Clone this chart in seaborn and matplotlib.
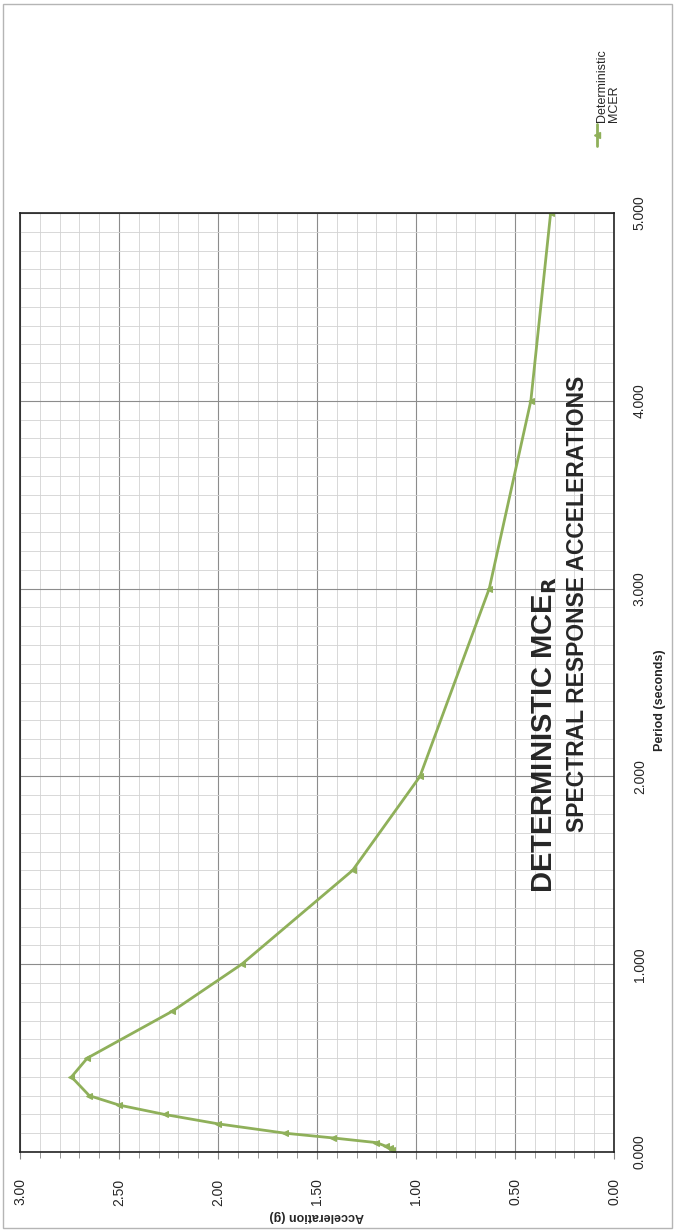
import matplotlib
matplotlib.use('Agg')
import pandas as pd
import matplotlib.pyplot as plt
import seaborn as sns
from matplotlib.lines import Line2D
from matplotlib.patches import Rectangle
from matplotlib.ticker import MultipleLocator, FormatStrFormatter

# deterministic MCE_R spectrum (period in s, acceleration in g)
period = [0.01, 0.02, 0.03, 0.05, 0.075, 0.1, 0.15, 0.2, 0.25, 0.3,
          0.4, 0.5, 0.75, 1.0, 1.5, 2.0, 3.0, 4.0, 5.0]
accel = [1.12, 1.13, 1.15, 1.20, 1.42, 1.66, 2.00, 2.27, 2.50, 2.65,
         2.74, 2.66, 2.23, 1.88, 1.32, 0.98, 0.63, 0.42, 0.32]
accel_ticks = [3.0, 2.5, 2.0, 1.5, 1.0, 0.5, 0.0]
period_ticks = [0, 1, 2, 3, 4, 5]

green = '#8FB05A'
W, H = 676, 1232

sns.set_style('white')
plt.rcParams['font.family'] = ['Liberation Sans', 'DejaVu Sans']

df = pd.DataFrame({'period': period, 'accel': accel})

fig = plt.figure(figsize=(W / 100, H / 100), dpi=100)
# chart is printed turned a quarter turn, so acceleration runs along the bottom
ax = fig.add_axes([20 / W, (H - 1152) / H, 594 / W, 939 / H])

sns.lineplot(data=df, x='accel', y='period', sort=False, estimator=None,
             color=green, lw=2, marker='<', markersize=5,
             markeredgecolor=green, ax=ax)

ax.set_xlim(3, 0)
ax.set_ylim(0, 5)
ax.set_xticks(accel_ticks)
ax.set_yticks(period_ticks)
ax.xaxis.set_minor_locator(MultipleLocator(0.1))
ax.yaxis.set_minor_locator(MultipleLocator(0.1))
ax.xaxis.set_major_formatter(FormatStrFormatter('%.2f'))
ax.yaxis.set_major_formatter(FormatStrFormatter('%.3f'))
ax.grid(which='major', color='#8c8c8c', lw=0.8)
ax.grid(which='minor', color='#d2d2d2', lw=0.6)
ax.set_axisbelow(True)
for s in ax.spines.values():
    s.set_color('#222222')
    s.set_linewidth(1.2)

ax.yaxis.tick_right()
ax.yaxis.set_label_position('right')
ax.tick_params(axis='x', which='both', bottom=True, length=5, color='#888888',
               pad=14, labelsize=10)
ax.tick_params(axis='x', which='minor', length=4)
ax.tick_params(axis='y', which='both', right=False, pad=10, labelsize=10)
plt.setp(ax.get_xticklabels(), rotation=90, ha='center', va='top')
plt.setp(ax.get_yticklabels(), rotation=90, ha='left', va='center')

ax.set_xlabel('Acceleration (g)', fontsize=9, fontweight='bold', rotation=180,
              va='center')
ax.xaxis.set_label_coords(0.5, -0.068)
ax.set_ylabel('Period (seconds)', fontsize=9, fontweight='bold', rotation=90,
              va='center')
ax.yaxis.set_label_coords((660 - 20) / 594, 0.481)

# title, turned with the chart
fig.text(545 / W, 1 - 735 / H, r'DETERMINISTIC MCE$_{\mathbf{R}}$',
         rotation=90, ha='center', va='center', fontsize=21, fontweight='bold')
fig.text(577 / W, 1 - 604 / H, 'SPECTRAL RESPONSE ACCELERATIONS',
         rotation=90, ha='center', va='center', fontsize=16.5, fontweight='bold')

# legend drawn by hand so it can be turned too
fig.add_artist(Line2D([597 / W, 597 / W], [1 - 146 / H, 1 - 124 / H],
                      transform=fig.transFigure, color=green, lw=2))
fig.add_artist(Line2D([597 / W], [1 - 135 / H], transform=fig.transFigure,
                      color=green, marker='<', markersize=5, lw=0))
fig.text(608 / W, 1 - 122 / H, 'Deterministic\nMCER', rotation=90,
         ha='center', va='bottom', multialignment='left', fontsize=9,
         linespacing=1.0)

fig.add_artist(Rectangle((3 / W, 4 / H), 669 / W, 1224 / H,
                         transform=fig.transFigure, fill=False,
                         ec='#b5b5b5', lw=1))

fig.savefig('out.png', dpi=100)
